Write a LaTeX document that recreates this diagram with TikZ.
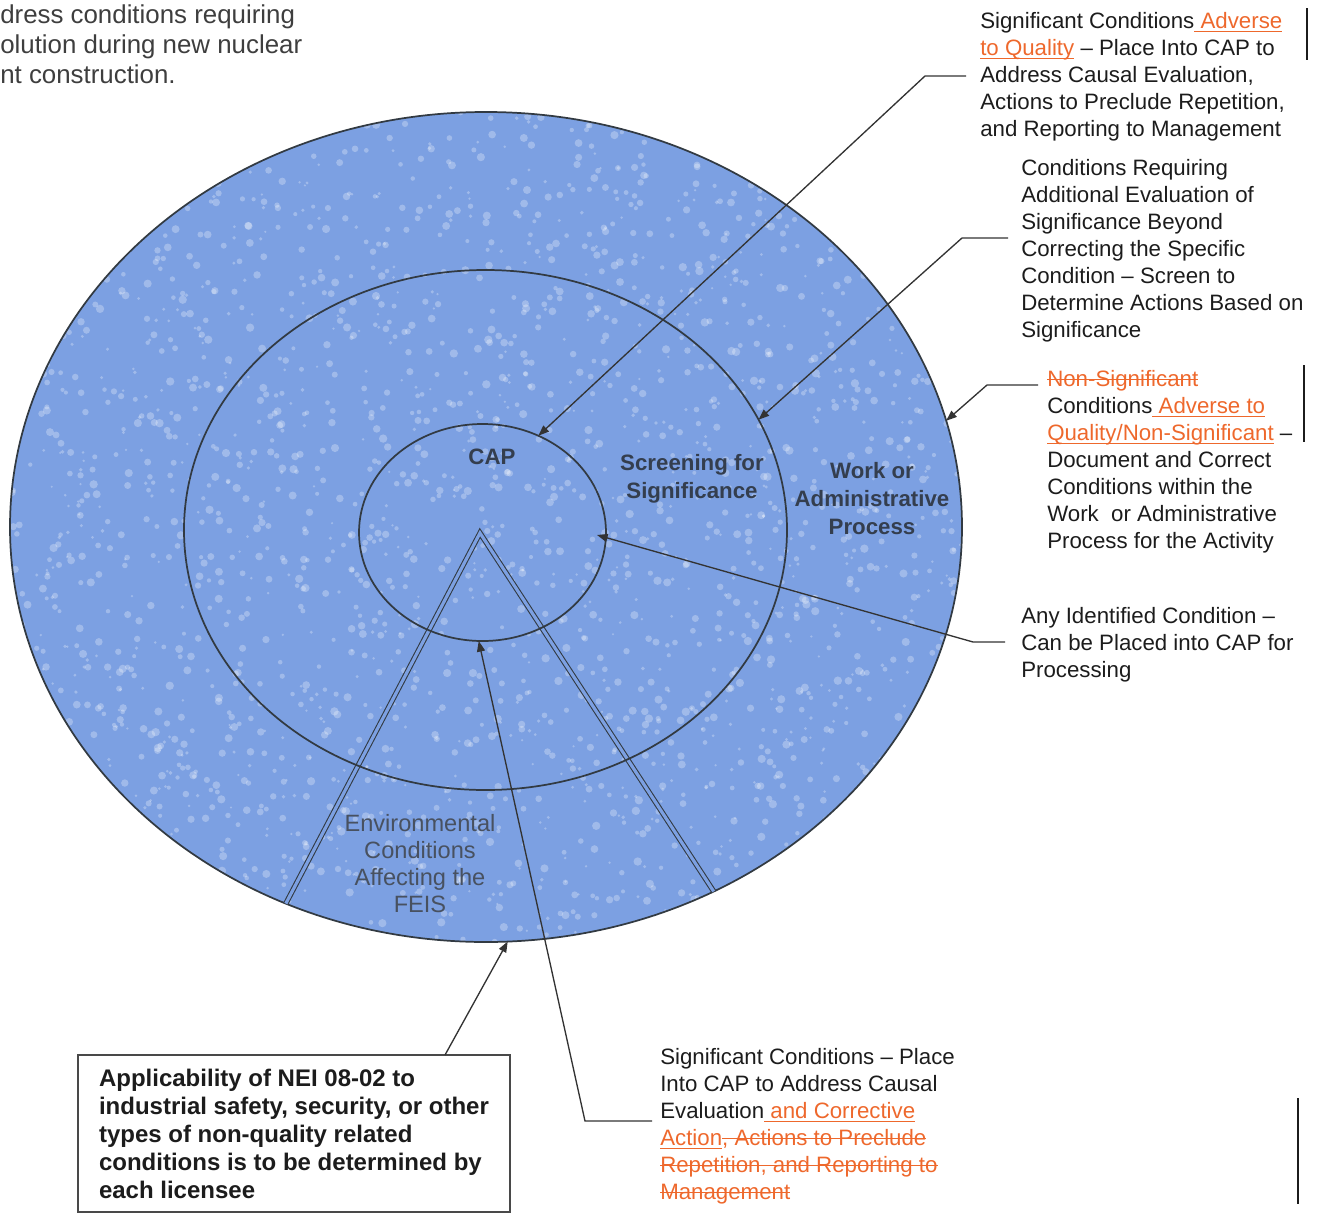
\documentclass[tikz,border=0pt]{standalone}
\usepackage{fontspec}
\setmainfont{Liberation Sans}
\usetikzlibrary{arrows.meta,shapes.geometric}
\definecolor{disc}{RGB}{124,160,226}
\definecolor{rev}{RGB}{238,104,44}
\definecolor{ink}{RGB}{28,28,28}
\definecolor{lbl}{RGB}{52,62,78}
\definecolor{rim}{RGB}{50,58,66}
\newsavebox{\revbox}
\newcommand{\revul}[1]{\sbox{\revbox}{#1}\rlap{\rule[-0.15em]{\wd\revbox}{0.05em}}\usebox{\revbox}}
\newcommand{\revso}[1]{\sbox{\revbox}{#1}\rlap{\rule[0.3em]{\wd\revbox}{0.05em}}\usebox{\revbox}}
\begin{document}
\begin{tikzpicture}[x=0.75pt,y=-0.75pt,
  ring/.style={ellipse,draw=rim,line width=1.3pt,inner sep=0pt,outer sep=0pt},
  lead/.style={draw=ink!90,line width=1pt,-{Triangle[length=8pt,width=6pt]}},
  txt/.style={font=\fontsize{16.7}{20.25}\selectfont,text=ink,align=left,inner sep=0pt,anchor=north west},
  lab/.style={font=\bfseries\fontsize{16.7}{21}\selectfont,text=lbl,align=center,inner sep=0pt},
  wedgeline/.style={draw=rim,line width=0.8pt,double=disc,double distance=2.4pt,line join=miter},
  bar/.style={draw=ink,line width=0.8pt},
  notebox/.style={draw=ink!80,line width=0.8pt,align=left,inner sep=0pt,
    font=\bfseries\fontsize{18}{21}\selectfont,text=ink,
    minimum width=324pt,minimum height=117.75pt}
]
\useasboundingbox (0,0) rectangle (1322,1214);

% disc background with speckle texture
\fill[disc] (486,527) ellipse [x radius=476, y radius=415];
\begin{scope}
\clip (486,527) ellipse [x radius=476, y radius=415];
\pgfmathsetseed{42}
\foreach \i in {1,...,2600}{
  \pgfmathsetmacro\px{10+952*rnd}
  \pgfmathsetmacro\py{112+830*rnd}
  \pgfmathsetmacro\pr{1.2+3*rnd}
  \fill[white,opacity=0.28] (\px,\py) circle[radius=\pr];
}
\end{scope}

% rings
\node[ring,minimum width=714pt,minimum height=622.5pt] (outer) at (486,527) {};
\coordinate (apex) at (480,533);
\draw[wedgeline] (outer.242) -- (apex) -- (outer.302);
\node[ring,minimum width=452.25pt,minimum height=390pt] (middle) at (485.5,530) {};
\node[ring,minimum width=185.25pt,minimum height=162.75pt] (inner) at (482.5,532.5) {};

% ring labels
\node[lab] (cap) at (492,457) {CAP};
\node[lab] (screen) at (692,479) {Screening for\\Significance};
\node[lab] (work) at (872,499) {Work or\\Administrative\\Process};
\node[lab,font=\fontsize{17.7}{20.25}\selectfont,text=lbl!90] (env) at (420,864) {Environmental\\Conditions\\Affecting the\\FEIS};

% intro text
\node[txt,font=\fontsize{19.4}{22.5}\selectfont,text=ink!85] (intro) at (0,4)
  {dress conditions requiring\\olution during new nuclear\\nt construction.};

% right-hand notes
\node[txt] (n1) at (980,12.5)
  {Significant Conditions\textcolor{rev}{\revul{ Adverse}}\\
   \textcolor{rev}{\revul{to Quality}} – Place Into CAP to\\
   Address Causal Evaluation,\\
   Actions to Preclude Repetition,\\
   and Reporting to Management};
\node[txt] (n2) at (1021,159.5)
  {Conditions Requiring\\Additional Evaluation of\\Significance Beyond\\Correcting the Specific\\Condition – Screen to\\Determine Actions Based on\\Significance};
\node[txt] (n3) at (1047,370.5)
  {\textcolor{rev}{\revso{Non-Significant}}\\
   Conditions\textcolor{rev}{\revul{ Adverse to}}\\
   \textcolor{rev}{\revul{Quality/Non-Significant}} –\\
   Document and Correct\\
   Conditions within the\\
   Work\ \ or Administrative\\
   Process for the Activity};
\node[txt] (n4) at (1021,607.5)
  {Any Identified Condition –\\Can be Placed into CAP for\\Processing};
\node[txt] (n5) at (660,1048.5)
  {Significant Conditions – Place\\
   Into CAP to Address Causal\\
   Evaluation\textcolor{rev}{\revul{ and Corrective}}\\
   \textcolor{rev}{\revul{Action}\revso{, Actions to Preclude}}\\
   \textcolor{rev}{\revso{Repetition, and Reporting to}}\\
   \textcolor{rev}{\revso{Management}}};

% note box
\node[notebox] (box) at (294,1133.5)
  {Applicability of NEI 08-02 to\\
   industrial safety, security, or other\\
   types of non-quality related\\
   conditions is to be determined by\\
   each licensee};

% leader coordinates
\coordinate (s1) at (966,76);   \coordinate (b1) at (925,76);
\coordinate (s2) at (1008,238); \coordinate (b2) at (962,238);
\coordinate (s3) at (1038,385); \coordinate (b3) at (987,385);
\coordinate (s4) at (1005,642); \coordinate (b4) at (973,642);
\coordinate (t4) at (597,535);
\coordinate (s5) at (445,1055);
\coordinate (s6) at (652,1121); \coordinate (b6) at (585,1121);

% leaders
\draw[lead] (s1) -- (b1) -- (inner.60);
\draw[lead] (s2) -- (b2) -- (middle.22);
\draw[lead] (s3) -- (b3) -- (outer.13);
\draw[lead] (s4) -- (b4) -- (t4);
\draw[lead] (s5) -- (outer.273);
\draw[lead] (s6) -- (b6) -- (inner.268);

% change bars
\draw[bar] (1307,8) -- (1307,60);
\draw[bar] (1304,365) -- (1304,442);
\draw[bar] (1298,1098) -- (1298,1204);
\end{tikzpicture}
\end{document}
